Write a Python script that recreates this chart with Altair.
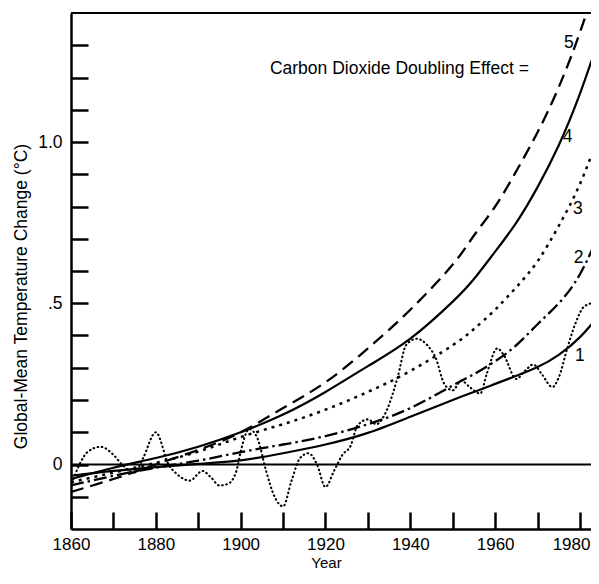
import altair as alt
import pandas as pd

# ---- data ----
model_years = [1860, 1870, 1880, 1890, 1900, 1910, 1920, 1930, 1940, 1950,
               1955, 1960, 1965, 1970, 1975, 1980, 1985]
curve1 = [-0.035, -0.02, -0.008, 0.002, 0.013, 0.035, 0.062, 0.098, 0.148, 0.200,
          0.225, 0.250, 0.275, 0.302, 0.340, 0.395, 0.470]
curve2 = [-0.065, -0.035, -0.01, 0.012, 0.038, 0.062, 0.088, 0.125, 0.175, 0.245,
          0.28, 0.32, 0.37, 0.435, 0.50, 0.59, 0.73]
curve3 = [-0.055, -0.025, 0.005, 0.04, 0.085, 0.125, 0.17, 0.225, 0.29, 0.37,
          0.42, 0.48, 0.55, 0.63, 0.74, 0.87, 1.04]
curve4 = [-0.045, -0.01, 0.02, 0.055, 0.10, 0.155, 0.225, 0.305, 0.39, 0.505,
          0.575, 0.66, 0.75, 0.86, 0.99, 1.15, 1.34]
curve5 = [-0.085, -0.045, 0.0, 0.045, 0.10, 0.175, 0.255, 0.36, 0.48, 0.62,
          0.71, 0.80, 0.91, 1.03, 1.17, 1.34, 1.54]

obs_years = [1860, 1861, 1862, 1864, 1867, 1870, 1872, 1875, 1877, 1880, 1883, 1885,
             1888, 1891, 1893, 1895, 1897, 1899, 1900, 1902, 1904, 1906, 1908, 1910,
             1912, 1914, 1916, 1918, 1920, 1922, 1924, 1926, 1927.5, 1930, 1932,
             1934.5, 1937, 1939, 1941.5, 1944, 1946, 1948, 1950, 1952, 1954, 1956.5,
             1958, 1960.5, 1962, 1965, 1967, 1969, 1971, 1973.5, 1975, 1977, 1979,
             1981, 1983, 1985]
obs_vals = [-0.07, -0.03, 0.0, 0.04, 0.055, 0.03, 0.0, -0.025, 0.02, 0.10, 0.0, -0.03,
            -0.05, -0.02, -0.04, -0.065, -0.06, -0.02, 0.04, 0.11, 0.08, -0.02, -0.10, -0.13,
            -0.05, 0.02, 0.035, 0.0, -0.07, -0.02, 0.03, 0.06, 0.12, 0.14, 0.125,
            0.17, 0.27, 0.37, 0.39, 0.37, 0.33, 0.25, 0.23, 0.26, 0.24, 0.22,
            0.28, 0.36, 0.34, 0.265, 0.29, 0.31, 0.28, 0.24, 0.27, 0.36, 0.44,
            0.49, 0.50, 0.50]

x_ticks = [1860, 1870, 1880, 1890, 1900, 1910, 1920, 1930, 1940, 1950, 1960, 1970, 1980]
x_labels = [1860, 1880, 1900, 1920, 1940, 1960, 1980]
y_ticks = [-0.1, 0.0, 0.1, 0.2, 0.3, 0.4, 0.5, 0.6, 0.7, 0.8, 0.9, 1.0, 1.1, 1.2, 1.3]
y_labels = [0.0, 0.5, 1.0]

curve_labels = ["5", "4", "3", "2", "1"]
curve_label_x = [1977.4, 1977.1, 1979.5, 1979.7, 1980.0]
curve_label_y = [1.308, 1.015, 0.791, 0.64, 0.335]

note_text = ["Carbon Dioxide Doubling Effect ="]
note_x = [1906.9]
note_y = [1.225]

# ---- chart ----
FONT = "Liberation Sans"
FS = 17.5
FS_X = 17
FS_XT = 15
W, H = 520, 516
xs = alt.Scale(domain=[1860, 1982.6], nice=False, zero=False)
ys = alt.Scale(domain=[-0.2, 1.4], nice=False, zero=False)

last_label = "datum.value >= 1979"
x_main_axis = alt.Axis(values=x_labels, format="d", ticks=False, tickSize=0, grid=False,
                       domain=True, domainColor="black", domainWidth=2.5, labelFlush=False,
                       labelAlign={"condition": {"test": last_label, "value": "right"}, "value": "center"},
                       labelOffset={"condition": {"test": last_label, "value": 10}, "value": 0},
                       labelFont=FONT, labelFontSize=FS_X, labelColor="black", labelPadding=7,
                       title="Year", titleFont=FONT, titleFontSize=FS_XT, titleFontWeight="normal",
                       titleColor="black", titleX=255, titleY=26, titleBaseline="top",
                       titleAlign="center")
y_main_axis = alt.Axis(values=y_labels, ticks=False, tickSize=0, grid=False,
                       domain=True, domainColor="black", domainWidth=2.5, labelFlush=False,
                       labelExpr="abs(datum.value) < 0.01 ? '0' : (abs(datum.value - 1) < 0.01 ? '1.0' : '.5')",
                       labelFont=FONT, labelFontSize=FS, labelColor="black", labelPadding=9,
                       labelBaseline="middle",
                       title="Global-Mean Temperature Change (°C)", titleFont=FONT,
                       titleFontSize=FS, titleFontWeight="normal", titleColor="black",
                       titleX=-50, titleY=283, titleAngle=270, titleAlign="center",
                       titleBaseline="middle")
x_tick_axis = alt.Axis(orient="top", offset=-H, values=x_ticks, labels=False, domain=False,
                       grid=False, ticks=True, tickSize=17, tickWidth=2.5, tickColor="black",
                       title=None)
y_tick_axis = alt.Axis(orient="right", offset=-W, values=y_ticks, labels=False, domain=False,
                       grid=False, ticks=True, tickSize=17, tickWidth=2.5, tickColor="black",
                       title=None)


def frame(years, vals, name):
    return pd.DataFrame({"year": years, "value": vals, "series": name})


styles = {
    "1": dict(strokeWidth=2.2),
    "2": dict(strokeWidth=2.3, strokeDash=[13, 4, 2.5, 4]),
    "3": dict(strokeWidth=2.5, strokeDash=[3, 5]),
    "4": dict(strokeWidth=2.2),
    "5": dict(strokeWidth=2.3, strokeDash=[13, 7]),
}
curves = {"1": curve1, "2": curve2, "3": curve3, "4": curve4, "5": curve5}

layers = []
first = True
for key in ["1", "2", "3", "4", "5"]:
    df = frame(model_years, curves[key], key)
    layers.append(
        alt.Chart(df).mark_line(color="black", clip=True, interpolate="natural", **styles[key]).encode(
            x=alt.X("year:Q", scale=xs, axis=x_main_axis if first else None),
            y=alt.Y("value:Q", scale=ys, axis=y_main_axis if first else None),
        )
    )
    first = False

obs_df = frame(obs_years, obs_vals, "obs")
layers.append(
    alt.Chart(obs_df).mark_line(color="black", clip=True, interpolate="monotone", strokeWidth=2.1,
                                strokeDash=[0.6, 3.6], strokeCap="round").encode(
        x=alt.X("year:Q", scale=xs, axis=x_tick_axis),
        y=alt.Y("value:Q", scale=ys, axis=y_tick_axis),
    )
)

zero_df = pd.DataFrame({"value": [0.0]})
layers.append(alt.Chart(zero_df).mark_rule(color="black", strokeWidth=2).encode(
    y=alt.Y("value:Q", scale=ys, axis=None)))
top_df = pd.DataFrame({"value": [1.4]})
layers.append(alt.Chart(top_df).mark_rule(color="black", strokeWidth=2).encode(
    y=alt.Y("value:Q", scale=ys, axis=None)))

lab_df = pd.DataFrame({"year": curve_label_x, "value": curve_label_y, "label": curve_labels})
layers.append(alt.Chart(lab_df).mark_text(font=FONT, fontSize=FS, color="black",
                                          align="center", baseline="middle").encode(
    x=alt.X("year:Q", scale=xs, axis=None),
    y=alt.Y("value:Q", scale=ys, axis=None),
    text="label:N"))

note_df = pd.DataFrame({"year": note_x, "value": note_y, "label": note_text})
layers.append(alt.Chart(note_df).mark_text(font=FONT, fontSize=FS, color="black",
                                           align="left", baseline="middle").encode(
    x=alt.X("year:Q", scale=xs, axis=None),
    y=alt.Y("value:Q", scale=ys, axis=None),
    text="label:N"))

chart = alt.layer(*layers).resolve_axis(x="independent", y="independent").properties(
    width=W, height=H,
    autosize=alt.AutoSizeParams(type="none"),
    padding={"left": 63, "top": 5, "right": 0, "bottom": 43},
    background="white",
).configure_view(stroke=None)

chart.save("out.html", embed_options={"renderer": "svg", "actions": False})
